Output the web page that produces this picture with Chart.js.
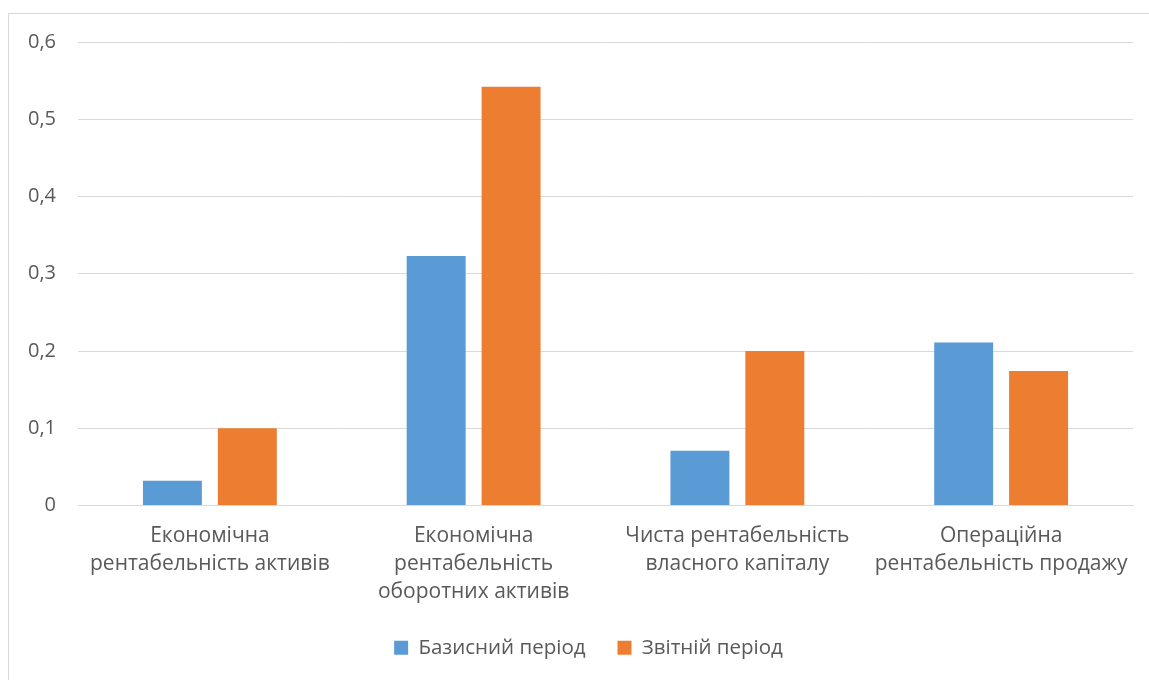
<!DOCTYPE html>
<html>
<head>
<meta charset="utf-8">
<script src="https://cdn.jsdelivr.net/npm/chart.js@4/dist/chart.umd.min.js"></script>
<style>
  html, body { margin: 0; padding: 0; background: #ffffff; }
  #wrap { width: 1149px; height: 680px; position: relative; }
</style>
</head>
<body>
<div id="wrap"><canvas id="c" width="1149" height="680"></canvas></div>
<script>
// Показники рентабельності
const categories = [
  ['Економічна', 'рентабельність активів'],
  ['Економічна', 'рентабельність', 'оборотних активів'],
  ['Чиста рентабельність', 'власного капіталу'],
  ['Операційна', 'рентабельність продажу']
];
const seriesNames = ['Базисний період', 'Звітній період'];
const baseValues = [0.032, 0.323, 0.071, 0.211];
const reportValues = [0.100, 0.542, 0.200, 0.174];
const yTicks = [0, 0.1, 0.2, 0.3, 0.4, 0.5, 0.6];

const FONT = '"Open Sans", "DejaVu Sans", sans-serif';
const TEXT = '#595959';

// Light frame around the whole chart
const framePlugin = {
  id: 'frame',
  beforeDraw(chart) {
    const ctx = chart.ctx;
    ctx.save();
    ctx.fillStyle = '#ffffff';
    ctx.fillRect(0, 0, chart.width, chart.height);
    ctx.strokeStyle = '#d9d9d9';
    ctx.lineWidth = 1;
    ctx.strokeRect(8.5, 13.5, chart.width + 20, chart.height + 20);
    ctx.restore();
  }
};

// Centre the legend on the outer frame rather than on the canvas
const legendShift = {
  id: 'legendShift',
  afterLayout(chart) {
    const lg = chart.legend;
    if (lg) { lg.left += 22; lg.right += 22; }
  }
};

new Chart(document.getElementById('c'), {
  type: 'bar',
  data: {
    labels: categories,
    datasets: [
      { label: seriesNames[0], data: baseValues, backgroundColor: '#5B9BD5',
        categoryPercentage: 0.568, barPercentage: 0.787 },
      { label: seriesNames[1], data: reportValues, backgroundColor: '#ED7D31',
        categoryPercentage: 0.568, barPercentage: 0.787 }
    ]
  },
  options: {
    responsive: false,
    animation: false,
    layout: { padding: { left: 0, right: 16, top: 42, bottom: 12 } },
    plugins: {
      legend: {
        position: 'bottom',
        labels: {
          font: { family: FONT, size: 20.5 },
          color: TEXT,
          boxWidth: 14,
          boxHeight: 14,
          padding: 32
        }
      },
      tooltip: { enabled: false }
    },
    scales: {
      x: {
        grid: { display: false },
        border: { color: '#d9d9d9' },
        ticks: {
          font: { family: FONT, size: 21, lineHeight: 1.35 },
          color: TEXT,
          padding: 8,
          maxRotation: 0,
          autoSkip: false
        },
        afterFit(s) { s.height = 100; }
      },
      y: {
        min: 0,
        max: 0.6,
        afterBuildTicks(s) { s.ticks = yTicks.map(v => ({ value: v })); },
        grid: { color: '#d9d9d9', drawTicks: false },
        border: { display: false },
        ticks: {
          font: { family: FONT, size: 20 },
          color: TEXT,
          padding: 22,
          callback: v => String(Math.round(v * 10) / 10).replace('.', ',')
        },
        afterFit(s) { s.width = 78; }
      }
    }
  },
  plugins: [framePlugin, legendShift]
});
</script>
</body>
</html>
